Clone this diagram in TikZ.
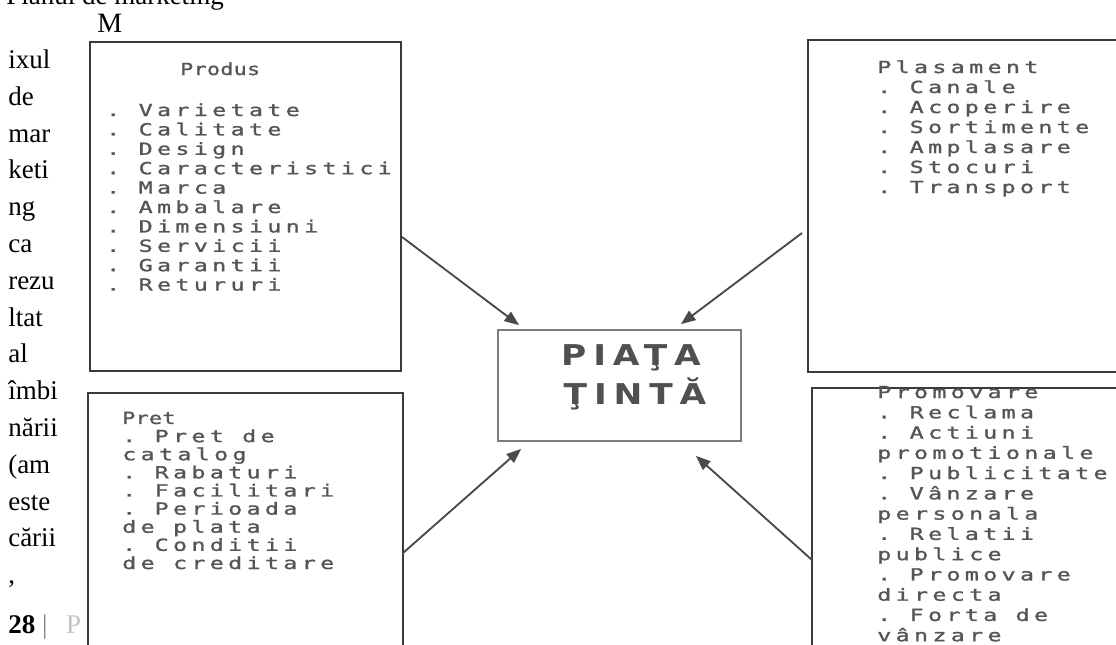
\documentclass[tikz,border=0pt]{standalone}
\usepackage{fontspec}
\setmainfont{Liberation Serif}
\newfontfamily\itemfont[LetterSpace=26,FakeStretch=1.4,FakeBold=1.3]{DejaVu Sans Mono}
\newfontfamily\headfont[LetterSpace=2,FakeStretch=1.3,FakeBold=1.3]{DejaVu Sans Mono}
\newfontfamily\targetfont[LetterSpace=24,FakeStretch=1.2]{DejaVu Sans}
\usetikzlibrary{arrows.meta,fit,calc}
\definecolor{framegray}{HTML}{3A3A3A}
\definecolor{boxgray}{HTML}{7C7C7C}
\definecolor{arrowgray}{HTML}{4A4A4A}
\definecolor{itemgray}{HTML}{555555}
\definecolor{targetgray}{HTML}{505050}
\definecolor{footgray}{HTML}{C4C4C4}
\begin{document}
\begin{tikzpicture}[x=0.75pt,y=-0.75pt,
  mixframe/.style={draw=framegray,line width=1.8pt,inner sep=0pt},
  targetbox/.style={draw=boxgray,line width=1.3pt,inner sep=0pt},
  % multi-line lists are anchored on the baseline of their last line
  itemlist/.style={anchor=base west,align=left,inner sep=0pt,text=itemgray},
  heading/.style={anchor=base west,inner sep=0pt,text=itemgray,
    font=\headfont\frenchspacing\fontsize{12.5}{14}\selectfont},
  bodyword/.style={anchor=base west,inner sep=0pt,font=\fontsize{20.25}{24}\selectfont},
  targetword/.style={anchor=base,inner sep=0pt,text=targetgray,
    font=\targetfont\bfseries\fontsize{21.5}{26}\selectfont},
  feed/.style={draw=arrowgray,line width=1.4pt,-{Triangle[length=11pt,width=8.5pt]}}
]
\useasboundingbox (0,0) rectangle (1116,644);
\clip (0,0) rectangle (1116,644);
\fill[white] (0,0) rectangle (1116,644);

% running text of the page, left column
\node[bodyword] (pagehead) at (6,4) {Planul de marketing};
\node[bodyword,font=\fontsize{21}{24}\selectfont] (capm) at (97,32) {M};
\foreach \w [count=\i] in {{ixul},{de},{mar},{keti},{ng},{ca},{rezu},{ltat},{al},{îmbi},{nării},{(am},{este},{cării},{,}}
  \node[bodyword] (w\i) at (8,{68.4+36.8*(\i-1)}) {\w};
\node[bodyword] (folio) at (8,633)
  {\textbf{28} \textcolor{gray}{|}\hspace{14pt}\textcolor{footgray}{P}};

% the four elements of the mix
\node[mixframe,fit={(90,42) (401,371)}] (produs) {};
\node[mixframe,fit={(808,40) (1140,372)}] (plasament) {};
\node[mixframe,fit={(88,393) (403,680)}] (pret) {};
\node[mixframe,fit={(812,388) (1140,680)}] (promovare) {};

\node[heading] (produshead) at (180,75) {Produs};
\node[itemlist,font=\itemfont\frenchspacing\fontsize{12.5}{14.55}\selectfont]
  (produslist) at (106,290.6)
  {. Varietate\\. Calitate\\. Design\\. Caracteristici\\. Marca\\. Ambalare\\
   . Dimensiuni\\. Servicii\\. Garantii\\. Retururi};

\node[itemlist,font=\itemfont\frenchspacing\fontsize{12.5}{15}\selectfont]
  (plasamentlist) at (877,193)
  {Plasament\\. Canale\\. Acoperire\\. Sortimente\\. Amplasare\\. Stocuri\\. Transport};

\node[itemlist,font=\itemfont\frenchspacing\fontsize{12.5}{13.6}\selectfont]
  (pretlist) at (122,569)
  {{\headfont Pret}\\. Pret de\\catalog\\. Rabaturi\\. Facilitari\\. Perioada\\
   de plata\\. Conditii\\de creditare};

\node[itemlist,font=\itemfont\frenchspacing\fontsize{12.5}{15.2}\selectfont]
  (promovarelist) at (877,641.2)
  {Promovare\\. Reclama\\. Actiuni\\promotionale\\. Publicitate\\. Vânzare\\
   personala\\. Relatii\\publice\\. Promovare\\directa\\. Forta de\\vânzare};

% target market in the middle
\node[targetbox,fit={(498,330) (741,441)}] (piata) {};
\node[targetword] (piata1) at (631,365) {PIAŢA};
\node[targetword] (piata2) at (635,404) {ŢINTĂ};

% arrows from each element to the target market
\coordinate (s1) at (402,237);
\coordinate (s2) at (802,233);
\coordinate (s3) at (403,553);
\coordinate (s4) at (812,560);
\coordinate (e1) at ($(piata.north west)+(22,-4)$);
\coordinate (e2) at ($(piata.north east)+(-61,-5)$);
\coordinate (e3) at ($(piata.south west)+(24,7)$);
\coordinate (e4) at ($(piata.south east)+(-46,14)$);
\draw[feed] (s1) -- (e1);
\draw[feed] (s2) -- (e2);
\draw[feed] (s3) -- (e3);
\draw[feed] (s4) -- (e4);
\end{tikzpicture}
\end{document}
